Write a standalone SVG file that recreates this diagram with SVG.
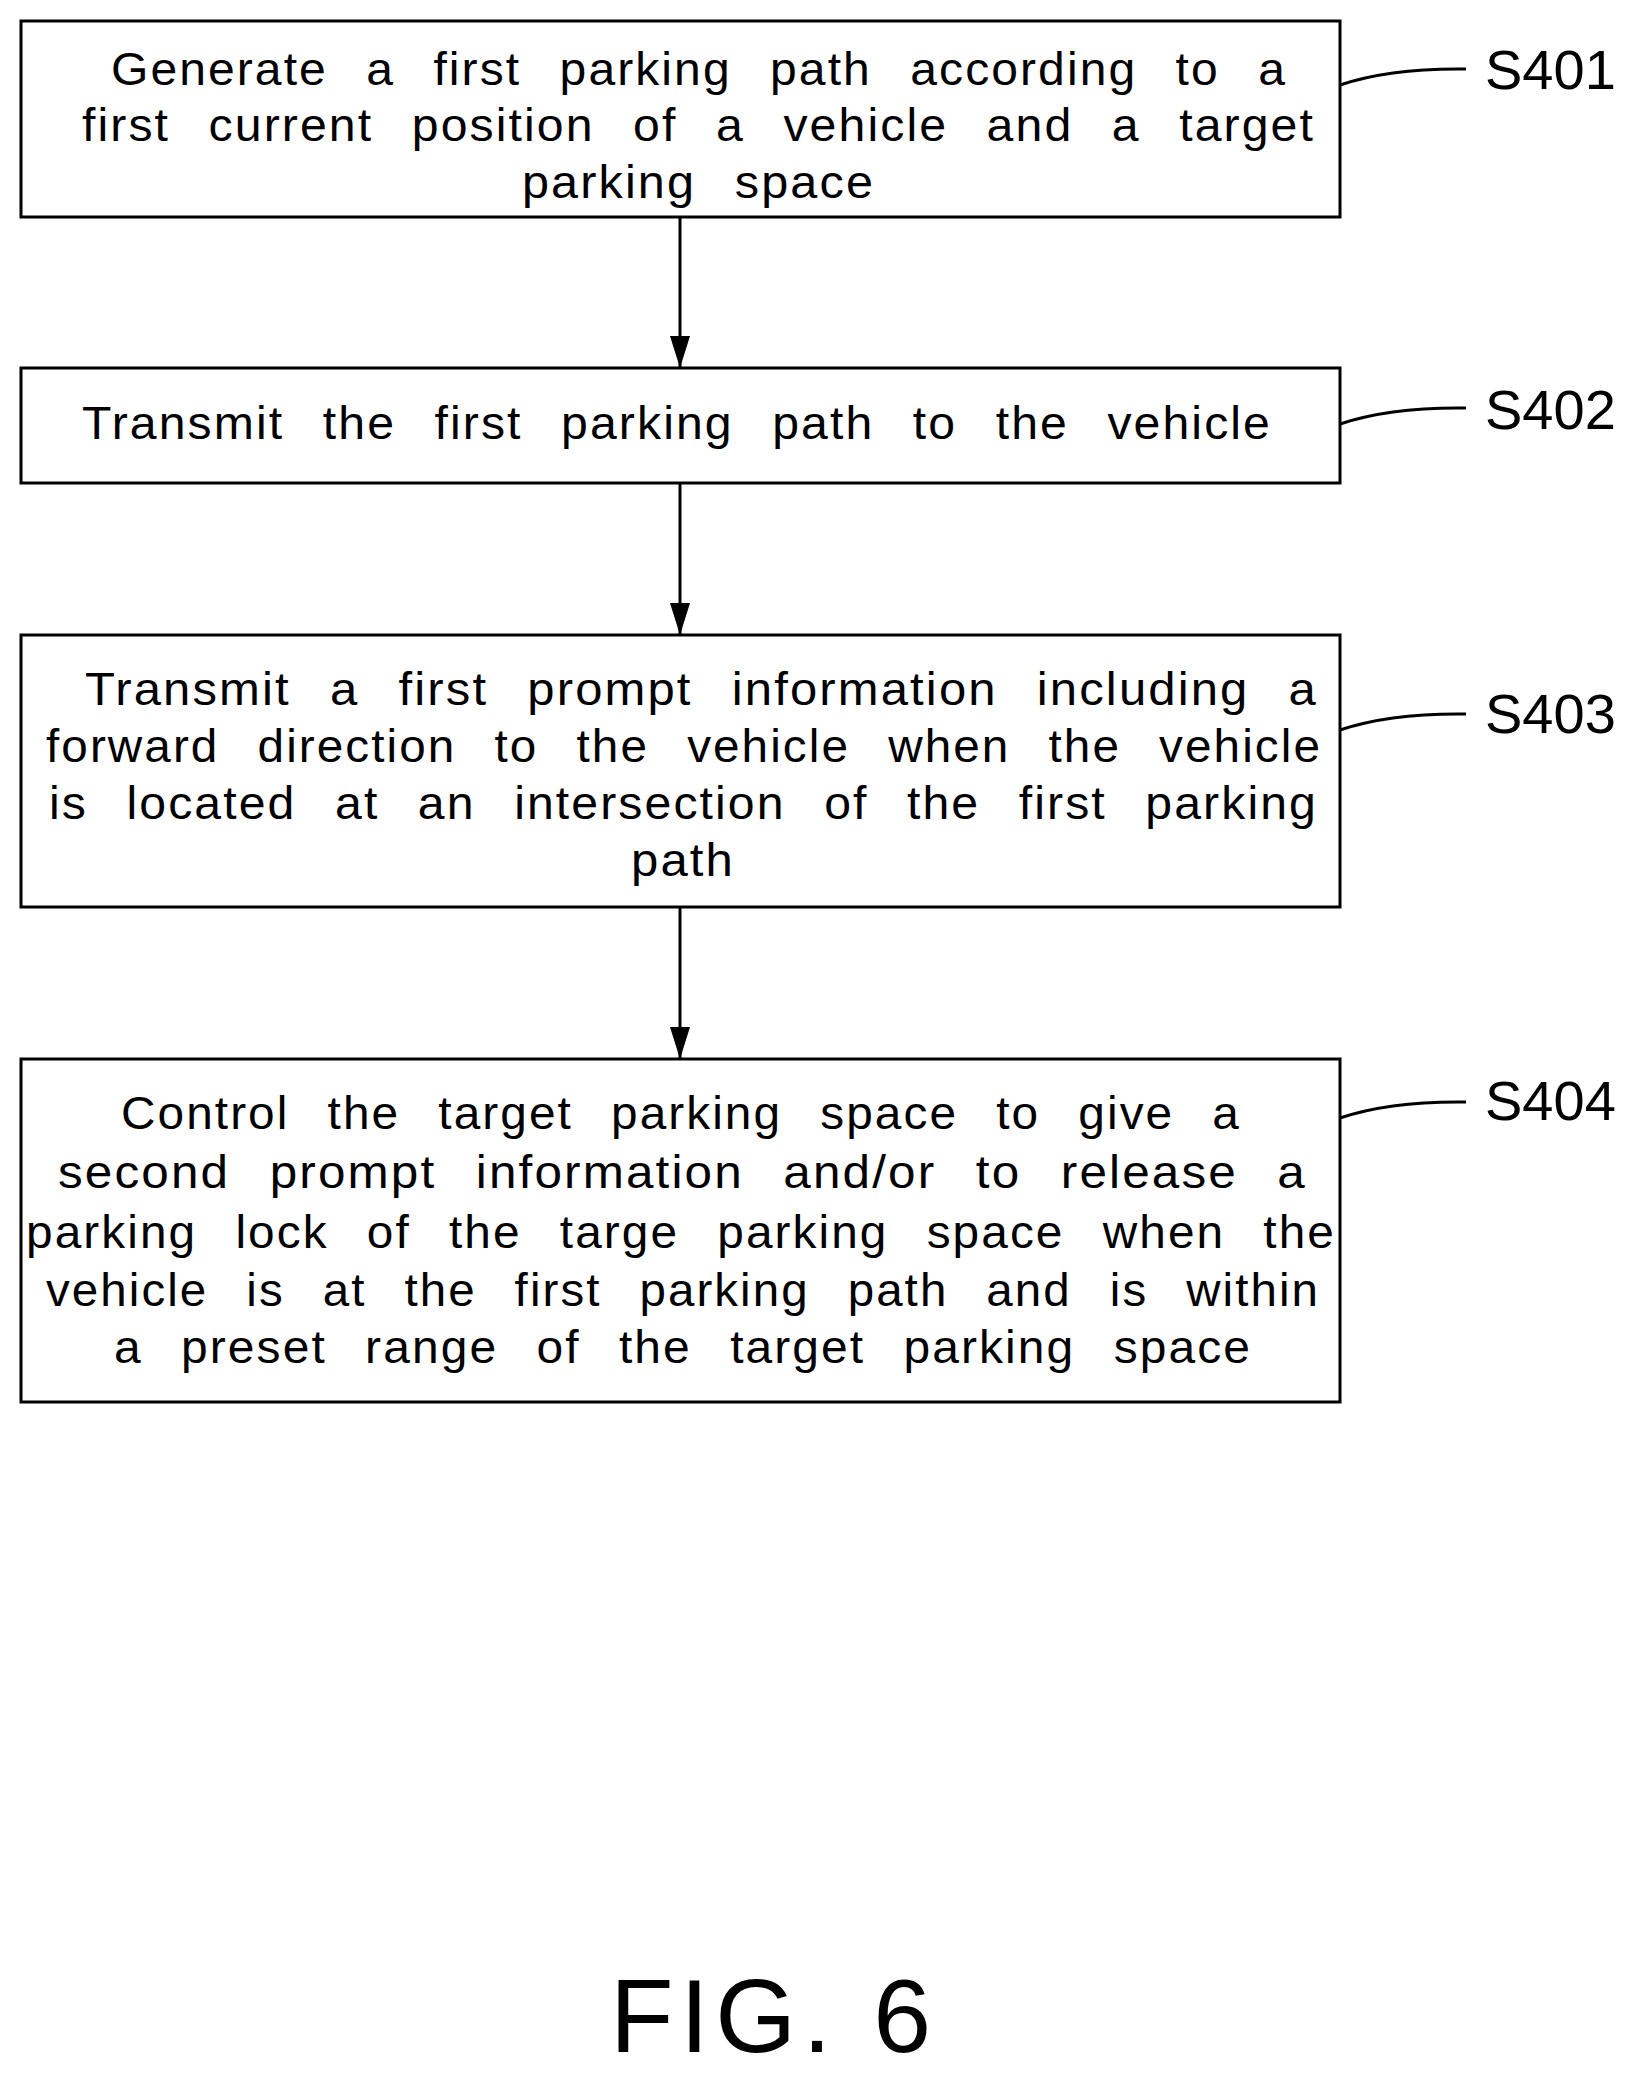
<svg xmlns="http://www.w3.org/2000/svg" width="1648" height="2075" viewBox="0 0 1648 2075">
<style>
.box{fill:#fff;stroke:#000;stroke-width:3}
.t{font-family:"Liberation Sans",Arial,sans-serif;font-size:46px;word-spacing:22px;letter-spacing:2px;fill:#000}
.lbl{font-family:"Liberation Sans",Arial,sans-serif;font-size:56px;fill:#000}
.c{stroke:#000;stroke-width:3;fill:none}
</style>
<defs><marker id="a" markerWidth="32" markerHeight="20" refX="31" refY="10" orient="auto" markerUnits="userSpaceOnUse"><path d="M0,0 L32,10 L0,20 z" fill="#000"/></marker></defs>
<rect width="1648" height="2075" fill="#fff"/>
<g id="connectors">
<line class="c" x1="680" y1="217" x2="680" y2="367" marker-end="url(#a)"/>
<line class="c" x1="680" y1="483" x2="680" y2="634" marker-end="url(#a)"/>
<line class="c" x1="680" y1="907" x2="680" y2="1058" marker-end="url(#a)"/>
<path class="c" d="M1340,85 Q1390,68 1466,69"/>
<path class="c" d="M1340,424 Q1390,407 1466,408"/>
<path class="c" d="M1340,730 Q1390,713 1466,714"/>
<path class="c" d="M1340,1118 Q1390,1101 1466,1102"/>
</g>
<g id="S401"><rect class="box" x="21" y="21" width="1319" height="196"/>
<text class="t" x="111" y="85" textLength="1176" lengthAdjust="spacingAndGlyphs">Generate a first parking path according to a</text>
<text class="t" x="82" y="141" textLength="1233" lengthAdjust="spacingAndGlyphs">first current position of a vehicle and a target</text>
<text class="t" x="522" y="198" textLength="353" lengthAdjust="spacingAndGlyphs">parking space</text>
<text class="lbl" x="1485" y="89">S401</text></g>
<g id="S402"><rect class="box" x="21" y="368" width="1319" height="115"/>
<text class="t" x="82" y="439" textLength="1190" lengthAdjust="spacingAndGlyphs">Transmit the first parking path to the vehicle</text>
<text class="lbl" x="1485" y="429">S402</text></g>
<g id="S403"><rect class="box" x="21" y="635" width="1319" height="272"/>
<text class="t" x="85" y="705" textLength="1233" lengthAdjust="spacingAndGlyphs">Transmit a first prompt information including a</text>
<text class="t" x="46" y="762" textLength="1276" lengthAdjust="spacingAndGlyphs">forward direction to the vehicle when the vehicle</text>
<text class="t" x="49" y="819" textLength="1269" lengthAdjust="spacingAndGlyphs">is located at an intersection of the first parking</text>
<text class="t" x="631" y="876" textLength="104" lengthAdjust="spacingAndGlyphs">path</text>
<text class="lbl" x="1485" y="733">S403</text></g>
<g id="S404"><rect class="box" x="21" y="1059" width="1319" height="343"/>
<text class="t" x="121" y="1129" textLength="1120" lengthAdjust="spacingAndGlyphs">Control the target parking space to give a</text>
<text class="t" x="58" y="1188" textLength="1249" lengthAdjust="spacingAndGlyphs">second prompt information and/or to release a</text>
<text class="t" x="26" y="1248" textLength="1310" lengthAdjust="spacingAndGlyphs">parking lock of the targe parking space when the</text>
<text class="t" x="46" y="1306" textLength="1274" lengthAdjust="spacingAndGlyphs">vehicle is at the first parking path and is within</text>
<text class="t" x="114" y="1363" textLength="1138" lengthAdjust="spacingAndGlyphs">a preset range of the target parking space</text>
<text class="lbl" x="1485" y="1120">S404</text></g>
<text x="610" y="2052" font-family="Liberation Sans,Arial,sans-serif" font-size="104" font-weight="300" textLength="321" lengthAdjust="spacing">FIG. 6</text>
</svg>
